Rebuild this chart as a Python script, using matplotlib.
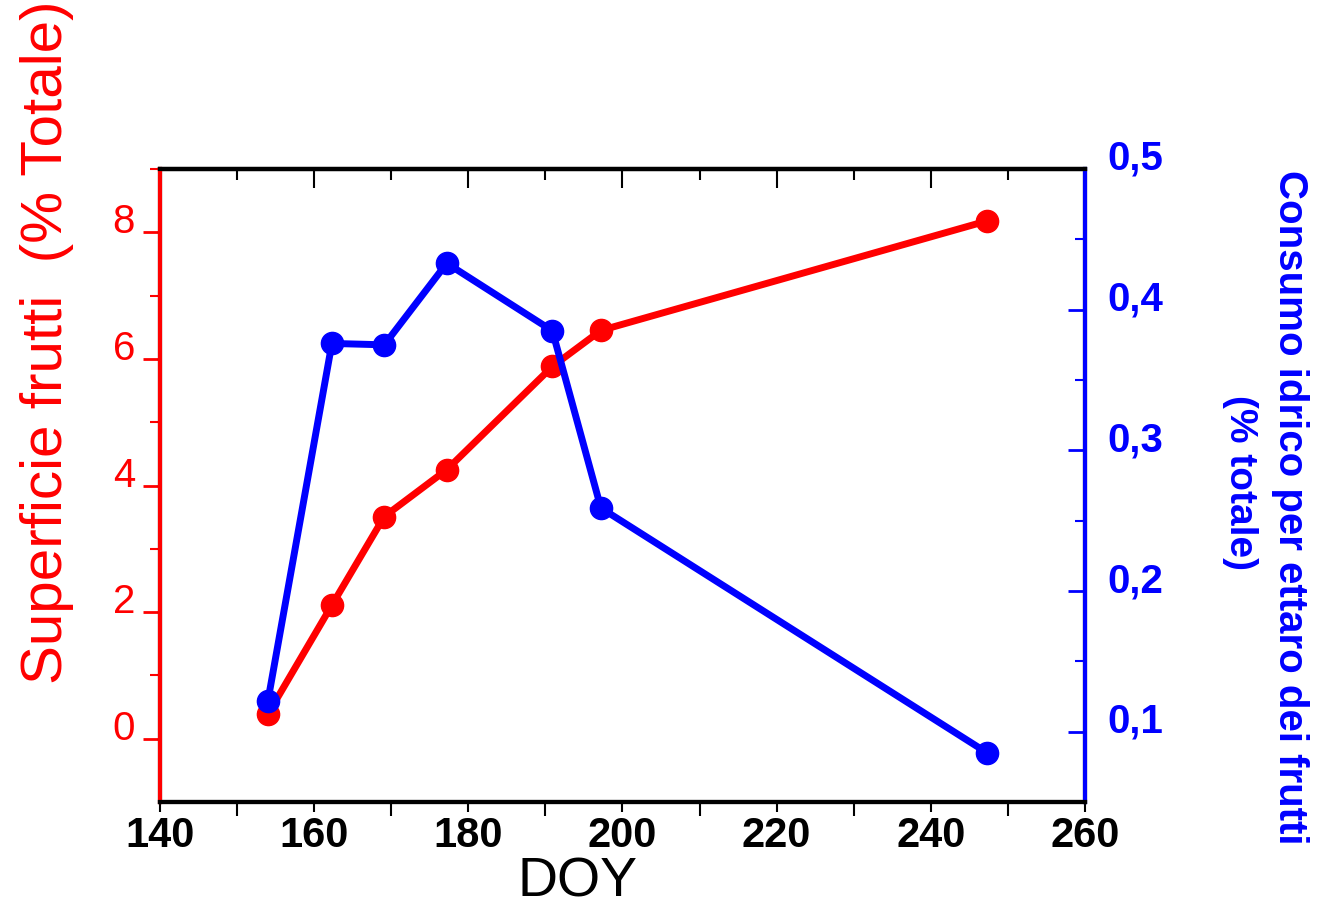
import matplotlib
matplotlib.use("Agg")
import matplotlib.pyplot as plt
import matplotlib.transforms as mtransforms
from matplotlib.ticker import FixedLocator, FuncFormatter

# data
doy = [154, 162.3, 169.1, 177.2, 190.9, 197.2, 247.3]
superficie = [0.39, 2.11, 3.51, 4.25, 5.88, 6.45, 8.18]
consumo = [0.122, 0.376, 0.375, 0.433, 0.385, 0.259, 0.085]

x_ticks = [140, 160, 180, 200, 220, 240, 260]
x_minor = [150, 170, 190, 210, 230, 250]
left_ticks = [0, 2, 4, 6, 8]
left_minor = [1, 3, 5, 7, 9]
right_ticks = [0.1, 0.2, 0.3, 0.4, 0.5]
right_minor = [0.15, 0.25, 0.35, 0.45]

RED = "#ff0000"
BLUE = "#0000ff"
plt.rcParams["font.family"] = ["Liberation Sans", "DejaVu Sans"]

fig = plt.figure(figsize=(13.18, 9.12), dpi=100)
ax = fig.add_axes([0.1214, 0.1195, 0.7018, 0.6941])
ax2 = ax.twinx()

ax.plot(doy, superficie, color=RED, lw=5, marker="o", ms=16, zorder=3)
ax2.plot(doy, consumo, color=BLUE, lw=5, marker="o", ms=16, zorder=4)

ax.set_xlim(140, 260)
ax.set_ylim(-1, 9)
ax2.set_ylim(0.05, 0.5)

ax.set_xticks(x_ticks)
ax.xaxis.set_minor_locator(FixedLocator(x_minor))
ax.set_yticks(left_ticks)
ax.yaxis.set_minor_locator(FixedLocator(left_minor))
ax2.set_yticks(right_ticks)
ax2.yaxis.set_minor_locator(FixedLocator(right_minor))
ax2.yaxis.set_major_formatter(FuncFormatter(lambda v, p: f"{v:.1f}".replace(".", ",")))

# bottom ticks point out, top ticks point in
ax.tick_params(axis="x", which="major", direction="out", length=7, width=1.5,
               labelsize=30, pad=2)
ax.tick_params(axis="x", which="minor", direction="out", length=10, width=1.5)
top = ax.secondary_xaxis("top")
top.set_xticks(x_ticks)
top.xaxis.set_minor_locator(FixedLocator(x_minor))
top.tick_params(axis="x", which="major", direction="in", length=14, width=1.5,
                labeltop=False)
top.tick_params(axis="x", which="minor", direction="in", length=8, width=1.5)
top.spines["top"].set_linewidth(3)

ax.tick_params(axis="y", which="major", direction="out", length=12, width=2,
               colors=RED, labelsize=29, pad=6)
ax.tick_params(axis="y", which="minor", direction="out", length=7, width=1.5, colors=RED)
ax2.tick_params(axis="y", which="major", direction="in", length=12, width=2,
                colors=BLUE, labelsize=29, pad=16)
ax2.tick_params(axis="y", which="minor", direction="in", length=7, width=1.5, colors=BLUE)
for lab in ax.get_xticklabels():
    lab.set_fontweight("bold")
for lab in ax2.get_yticklabels():
    lab.set_fontweight("bold")

# tick labels sit slightly above their ticks in the original
up = mtransforms.ScaledTranslation(0, 15 / 100, fig.dpi_scale_trans)
for t in ax.yaxis.get_major_ticks():
    t.label1.set_transform(t.label1.get_transform() + up)
for t in ax2.yaxis.get_major_ticks():
    t.label2.set_transform(t.label2.get_transform() + up)

for a in (ax, ax2):
    for s in a.spines.values():
        s.set_linewidth(3)
ax2.spines["left"].set_color(RED)
ax2.spines["right"].set_color(BLUE)
ax2.spines["top"].set_color("black")
ax2.spines["bottom"].set_color("black")

fig.text(0.4385, 0.032, "DOY", fontsize=40, ha="center", va="center")
fig.text(0.036, 0.625, "Superficie frutti  (% Totale)", color=RED, fontsize=42,
         rotation=90, ha="center", va="center")
fig.text(0.979, 0.444, "Consumo idrico per ettaro dei frutti", color=BLUE,
         fontsize=29, fontweight="bold", rotation=-90, ha="center", va="center")
fig.text(0.941, 0.471, "(% totale)", color=BLUE, fontsize=28, fontweight="bold",
         rotation=-90, ha="center", va="center")

fig.savefig("out.png", dpi=100)
